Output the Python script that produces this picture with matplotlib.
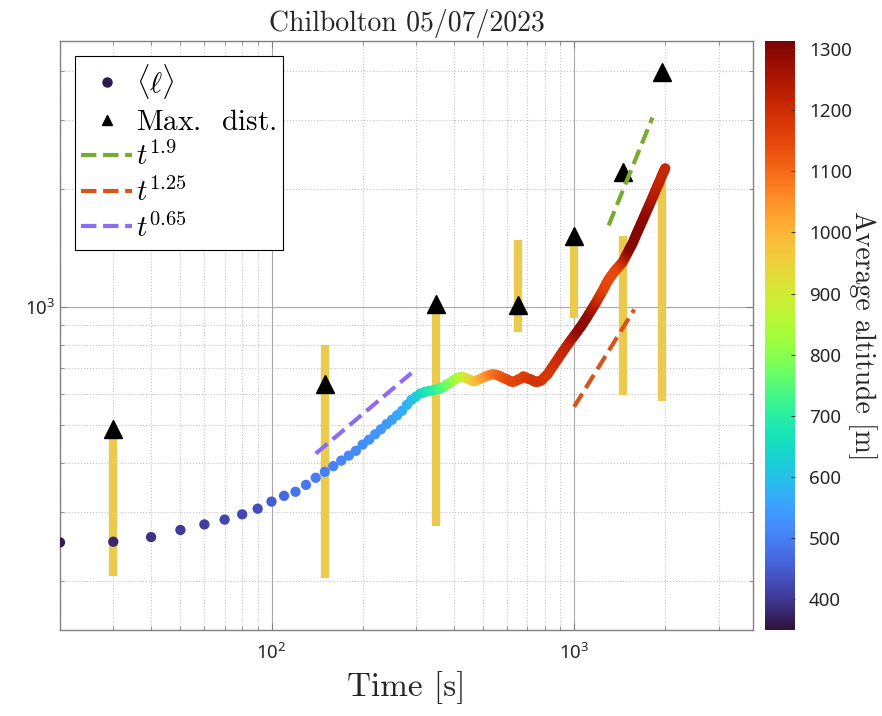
import numpy as np
import matplotlib
matplotlib.use('Agg')
import matplotlib.pyplot as plt
from matplotlib.lines import Line2D
from matplotlib.ticker import NullFormatter
from matplotlib.colors import Normalize

plt.rcParams['font.family'] = ['Noto Sans', 'DejaVu Sans']
plt.rcParams['mathtext.fontset'] = 'cm'

# ---------------- data ----------------
time_s = np.arange(20, 2001, 10)
mean_len = [
    251, 252, 259, 270, 279, 287, 296, 306, 319, 330,
    338, 352, 367, 380, 393, 406, 418, 430, 446, 459,
    474, 488, 503, 516, 530, 544, 563, 580, 591, 602,
    607, 611, 613, 617, 620, 626, 635, 642, 652, 659,
    663, 663, 659, 654, 648, 648, 652, 656, 661, 666,
    670, 673, 674, 673, 670, 666, 661, 658, 654, 650,
    646, 645, 648, 652, 656, 659, 666, 663, 658, 656,
    654, 650, 646, 645, 646, 648, 650, 657, 664, 670,
    677, 687, 697, 706, 716, 725, 734, 744, 754, 763,
    773, 782, 792, 801, 810, 819, 828, 836, 845, 854,
    863, 872, 882, 890, 900, 909, 920, 930, 940, 951,
    962, 972, 984, 994, 1005, 1016, 1027, 1039, 1051, 1063,
    1075, 1087, 1100, 1112, 1125, 1139, 1152, 1164, 1177, 1187,
    1196, 1206, 1215, 1225, 1235, 1243, 1251, 1259, 1266, 1275,
    1282, 1289, 1297, 1307, 1321, 1333, 1348, 1362, 1374, 1389,
    1403, 1417, 1430, 1443, 1457, 1474, 1491, 1508, 1525, 1542,
    1559, 1576, 1591, 1609, 1628, 1643, 1659, 1677, 1696, 1712,
    1731, 1747, 1767, 1783, 1801, 1820, 1838, 1855, 1875, 1894,
    1911, 1930, 1949, 1971, 1989, 2010, 2028, 2049, 2068, 2085,
    2104, 2125, 2145, 2167, 2183, 2204, 2223, 2242, 2261,
]
altitude = [
    365, 380, 395, 405, 412, 418, 424, 432, 450, 470,
    485, 492, 498, 503, 507, 511, 515, 519, 523, 528,
    533, 538, 545, 552, 560, 570, 582, 598, 618, 640,
    660, 680, 695, 710, 728, 748, 770, 795, 815, 835,
    855, 880, 905, 930, 955, 975, 992, 1010, 1025, 1040,
    1055, 1070, 1085, 1095, 1105, 1115, 1125, 1132, 1138, 1145,
    1150, 1152, 1155, 1158, 1160, 1163, 1166, 1170, 1175, 1180,
    1183, 1186, 1188, 1190, 1190, 1188, 1186, 1184, 1182, 1180,
    1180, 1182, 1185, 1188, 1190, 1195, 1200, 1205, 1208, 1210,
    1212, 1215, 1218, 1220, 1225, 1230, 1238, 1245, 1255, 1265,
    1272, 1278, 1283, 1287, 1290, 1292, 1292, 1290, 1287, 1283,
    1278, 1272, 1265, 1258, 1250, 1240, 1230, 1220, 1210, 1200,
    1190, 1182, 1175, 1168, 1162, 1158, 1155, 1152, 1150, 1148,
    1146, 1145, 1145, 1145, 1146, 1148, 1150, 1152, 1155, 1160,
    1165, 1172, 1180, 1190, 1205, 1220, 1235, 1250, 1265, 1278,
    1288, 1294, 1298, 1300, 1300, 1300, 1300, 1300, 1300, 1300,
    1300, 1300, 1300, 1300, 1300, 1298, 1296, 1294, 1292, 1290,
    1288, 1285, 1282, 1278, 1274, 1270, 1265, 1260, 1255, 1250,
    1246, 1242, 1238, 1235, 1232, 1230, 1228, 1226, 1224, 1222,
    1220, 1218, 1216, 1215, 1214, 1213, 1212, 1211, 1210,
]

snap_t = [30, 150, 350, 650, 1000, 1450, 1950]
range_low = [206, 204, 277, 864, 938, 597, 577]
range_high = [461, 800, 1000, 1480, 1430, 1516, 2092]
max_dist = [489, 637, 1018, 1012, 1516, 2218, 3984]

fit_labels = [r'$t^{1.9}$', r'$t^{1.25}$', r'$t^{0.65}$']
fit_exponent = [1.9, 1.25, 0.65]
fit_t_start = [1300, 1000, 140]
fit_t_end = [1815, 1580, 290]
fit_y_start = [1617, 557, 423]
fit_colors = ['#77AC30', '#D95319', '#8C6CF0']

alt_ticks = [400, 500, 600, 700, 800, 900, 1000, 1100, 1200, 1300]

# ---------------- figure ----------------
W, H = 882, 716
fig = plt.figure(figsize=(W / 100, H / 100), dpi=100)
ax_l, ax_r, ax_t, ax_b = 60, 753, 41, 630
ax = fig.add_axes([ax_l / W, 1 - ax_b / H, (ax_r - ax_l) / W, (ax_b - ax_t) / H])
cax = fig.add_axes([765 / W, 1 - ax_b / H, 30 / W, (ax_b - ax_t) / H])

ax.set_xscale('log')
ax.set_yscale('log')
ax.set_xlim(20, 3900)
ax.set_ylim(150, 4780)

cmap = plt.get_cmap('turbo')
norm = Normalize(vmin=350, vmax=1313)

bar_color = '#EBCB4E'
ax.vlines(snap_t, range_low, range_high, colors=bar_color, lw=6, zorder=2,
          capstyle='butt')
ax.plot(snap_t, max_dist, ls='none', marker='^', ms=13, color='k', zorder=3)

sc = ax.scatter(time_s, mean_len, c=altitude, cmap=cmap, norm=norm, s=55,
                edgecolors='none', zorder=4)

for lab, ex, t0, t1, y0, col in zip(fit_labels, fit_exponent, fit_t_start,
                                    fit_t_end, fit_y_start, fit_colors):
    tt = np.array([t0, t1])
    yy = y0 * (tt / t0) ** ex
    ax.plot(tt, yy, ls='--', color=col, lw=3, zorder=5)

# grid / ticks
ax.grid(True, which='major', color='#a8a8a8', ls='-', lw=0.8)
ax.grid(True, which='minor', color='#c4c4c4', ls=':', lw=0.8)
ax.set_axisbelow(True)
ax.xaxis.set_minor_formatter(NullFormatter())
ax.yaxis.set_minor_formatter(NullFormatter())
ax.tick_params(which='both', direction='in', top=True, right=True,
               color='#808080', labelcolor='#262626', labelsize=13.5)
ax.tick_params(axis='x', which='major', pad=9)
ax.tick_params(which='major', length=5)
ax.tick_params(which='minor', length=3)
for sp in ax.spines.values():
    sp.set_color('#808080')
    sp.set_linewidth(1.0)

ax.set_title('Chilbolton 05/07/2023', fontfamily='cmr10', fontsize=20,
             pad=7, color='#262626')
ax.set_xlabel('Time [s]', fontfamily='cmr10', fontsize=24, labelpad=6,
              color='#262626')

# legend
handles = [
    Line2D([], [], ls='none', marker='o', ms=6.5, color='#2d1a4f'),
    Line2D([], [], ls='none', marker='^', ms=7.5, color='k'),
] + [Line2D([], [], ls='--', lw=3, color=c) for c in fit_colors]
labels = [r'$\langle\ell\rangle$', r'$\mathrm{Max.\;\ dist.}$'] + fit_labels
leg = ax.legend(handles, labels, loc='upper left',
                bbox_to_anchor=((75 - ax_l) / (ax_r - ax_l), (ax_b - 56) / (ax_b - ax_t)),
                borderaxespad=0, fontsize=21, frameon=True, fancybox=False,
                framealpha=1, edgecolor='black', handlelength=1.75,
                handletextpad=0.12, labelspacing=0.22, borderpad=0.22)
leg.get_frame().set_linewidth(0.8)
leg.set_zorder(10)

# colorbar
cb = fig.colorbar(sc, cax=cax, ticks=alt_ticks)
cb.outline.set_visible(False)
cax.tick_params(direction='in', length=3, color='#404040', labelsize=13.5,
                labelcolor='#262626', pad=10)
cb.set_label('Average altitude [m]', rotation=270, fontfamily='cmr10',
             fontsize=20, labelpad=18, color='#262626')

fig.savefig('out.png', dpi=100)
